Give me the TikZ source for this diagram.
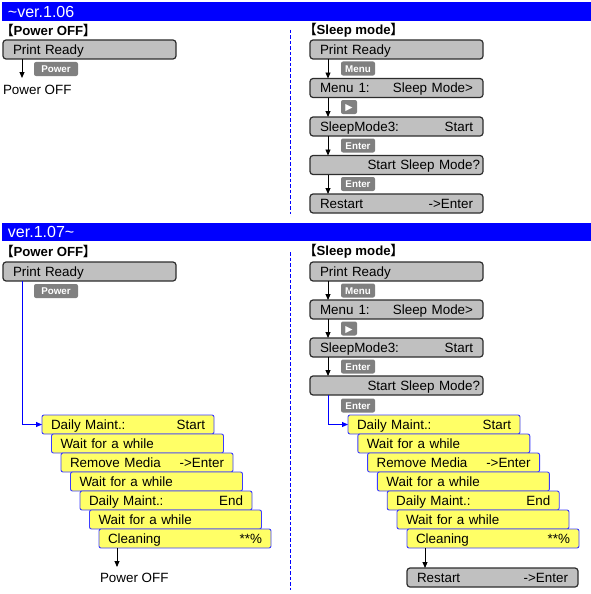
\documentclass[tikz,border=0pt]{standalone}
\usepackage{fontspec}
\setmainfont{Liberation Sans}
\newfontfamily\cjk[RawFeature=+palt]{Noto Sans CJK JP}
\newfontfamily\dvs{DejaVu Sans}
\usetikzlibrary{arrows.meta}
\definecolor{hdrblue}{RGB}{0,0,255}
\definecolor{boxgray}{RGB}{192,192,192}
\definecolor{boxedge}{RGB}{45,45,45}
\definecolor{keygray}{RGB}{128,128,128}
\definecolor{yel}{RGB}{255,255,102}
\definecolor{yedge}{RGB}{60,60,255}
\newcommand{\hf}{\hspace{0pt plus 1filll}}
\begin{document}
\begin{tikzpicture}[x=1pt,y=-1pt,
  every node/.style={inner sep=0pt, outer sep=0pt},
  txt/.style={font=\fontsize{13.4}{16}\selectfont, text height=9.6pt, text depth=0pt},
  gbox/.style={txt, draw=boxedge, fill=boxgray, line width=1.2pt, rounded corners=3pt, minimum height=19pt, inner xsep=10pt, anchor=north west, text width=#1, align=left},
  ybox/.style={txt, draw=yedge, fill=yel, line width=0.9pt, rounded corners=2pt, minimum height=19pt, inner xsep=9pt, anchor=north west, text width=154pt, align=left},
  keybox/.style={fill=keygray, rounded corners=2pt, minimum height=14pt, minimum width=#1, anchor=north west, text=white, font=\bfseries\fontsize{9.8}{11}\selectfont, text height=7pt, text depth=0pt},
  title/.style={anchor=west, font=\bfseries\fontsize{13.2}{15}\selectfont},
  bar/.style={fill=hdrblue, text=white, anchor=north west, minimum width=589pt, minimum height=#1, text width=577pt, inner xsep=6pt, align=left, font=\fontsize{16}{19}\selectfont, text height=11.5pt, text depth=0pt},
  arr/.style={-{Triangle[length=6pt,width=5pt]}, line width=0.9pt, black},
  barr/.style={-{Triangle[length=6pt,width=5pt]}, line width=0.9pt, hdrblue},
  divider/.style={hdrblue, line width=0.9pt, dash pattern=on 3.5pt off 2pt}
]
\useasboundingbox (0,0) rectangle (591,594);
\fill[white] (0,0) rectangle (591,594);

% header bars
\node[bar=19pt] (bar1) at (2,2) {\textasciitilde ver.1.06};
\node[bar=18pt] (bar2) at (2,223) {ver.1.07\textasciitilde};

% dividers
\coordinate (d1a) at (290,30); \coordinate (d1b) at (290,214);
\coordinate (d2a) at (290,252); \coordinate (d2b) at (290,590);
\draw[divider] (d1a) -- (d1b);
\draw[divider] (d2a) -- (d2b);

% ---------- ver 1.06, Power OFF ----------
\node[title] (t1L) at (7,30) {{\cjk 【}Power OFF{\cjk 】}};
\node[gbox=153pt] (pr1L) at (3,40) {Print Ready};
\node[keybox=44pt] (k1L) at (34,62) {Power};
\node[txt, anchor=west] (po1L) at (3,90) {Power OFF};
\coordinate (e1L) at (22,78);
\draw[arr] (pr1L.south -| e1L) -- (e1L);

% ---------- ver 1.06, Sleep mode ----------
\node[title] (t1R) at (310,30) {{\cjk 【}Sleep mode{\cjk 】}};
\node[gbox=153pt] (a1) at (310,40) {Print Ready};
\node[gbox=153pt] (a2) at (310,78.5) {Menu\hspace{5pt}1:\hf Sleep Mode>};
\node[gbox=153pt] (a3) at (310,117) {SleepMode3:\hf Start};
\node[gbox=167pt, inner xsep=3pt, align=right] (a4) at (310,155.5) {Start Sleep Mode?};
\node[gbox=153pt] (a5) at (310,194) {Restart\hf ->Enter};
\node[keybox=34pt] (ka1) at (341,61.5) {Menu};
\node[keybox=16pt] (ka2) at (341,100) {\fontsize{9.5}{10}\selectfont\dvs ▶};
\node[keybox=34pt] (ka3) at (341,138.5) {Enter};
\node[keybox=34pt] (ka4) at (341,177) {Enter};
\foreach \p/\q in {a1/a2,a2/a3,a3/a4,a4/a5}
  \draw[arr] ([xshift=18pt]\p.south west) -- ([xshift=18pt]\q.north west);

% ---------- ver 1.07, Power OFF ----------
\node[title] (t2L) at (7,251) {{\cjk 【}Power OFF{\cjk 】}};
\node[gbox=153pt] (pr2L) at (3,262) {Print Ready};
\node[keybox=44pt] (k2L) at (34,284) {Power};
\node[ybox] (y1L) at (42,415) {Daily Maint.:\hf Start};
\node[ybox] (y2L) at (51.5,434) {Wait for a while};
\node[ybox] (y3L) at (61,453) {Remove Media\hf ->Enter};
\node[ybox] (y4L) at (70.5,472) {Wait for a while};
\node[ybox] (y5L) at (80,491) {Daily Maint.:\hf End};
\node[ybox] (y6L) at (89.5,510) {Wait for a while};
\node[ybox] (y7L) at (99,529) {Cleaning\hf **\%};
\draw[barr] ([xshift=19pt]pr2L.south west) |- (y1L.west);
\node[txt, anchor=west] (po2L) at (100,578) {Power OFF};
\coordinate (e2L) at (117,567);
\draw[arr] (y7L.south -| e2L) -- (e2L);

% ---------- ver 1.07, Sleep mode ----------
\node[title] (t2R) at (310,251) {{\cjk 【}Sleep mode{\cjk 】}};
\node[gbox=153pt] (b1) at (310,262) {Print Ready};
\node[gbox=153pt] (b2) at (310,300) {Menu\hspace{5pt}1:\hf Sleep Mode>};
\node[gbox=153pt] (b3) at (310,338) {SleepMode3:\hf Start};
\node[gbox=167pt, inner xsep=3pt, align=right] (b4) at (310,376) {Start Sleep Mode?};
\node[keybox=34pt] (kb1) at (341,283.5) {Menu};
\node[keybox=16pt] (kb2) at (341,321.5) {\fontsize{9.5}{10}\selectfont\dvs ▶};
\node[keybox=34pt] (kb3) at (341,359.5) {Enter};
\node[keybox=34pt] (kb4) at (341,398.5) {Enter};
\foreach \p/\q in {b1/b2,b2/b3,b3/b4}
  \draw[arr] ([xshift=18pt]\p.south west) -- ([xshift=18pt]\q.north west);
\node[ybox] (y1R) at (348,415) {Daily Maint.:\hf Start};
\node[ybox] (y2R) at (357.8,434) {Wait for a while};
\node[ybox] (y3R) at (367.6,453) {Remove Media\hf ->Enter};
\node[ybox] (y4R) at (377.4,472) {Wait for a while};
\node[ybox] (y5R) at (387.2,491) {Daily Maint.:\hf End};
\node[ybox] (y6R) at (397,510) {Wait for a while};
\node[ybox] (y7R) at (407,529) {Cleaning\hf **\%};
\draw[barr] ([xshift=18pt]b4.south west) |- (y1R.west);
\node[gbox=151pt] (rsR) at (407,568) {Restart\hf ->Enter};
\draw[arr] ([xshift=18pt]y7R.south west) -- ([xshift=18pt]rsR.north west);
\end{tikzpicture}
\end{document}
